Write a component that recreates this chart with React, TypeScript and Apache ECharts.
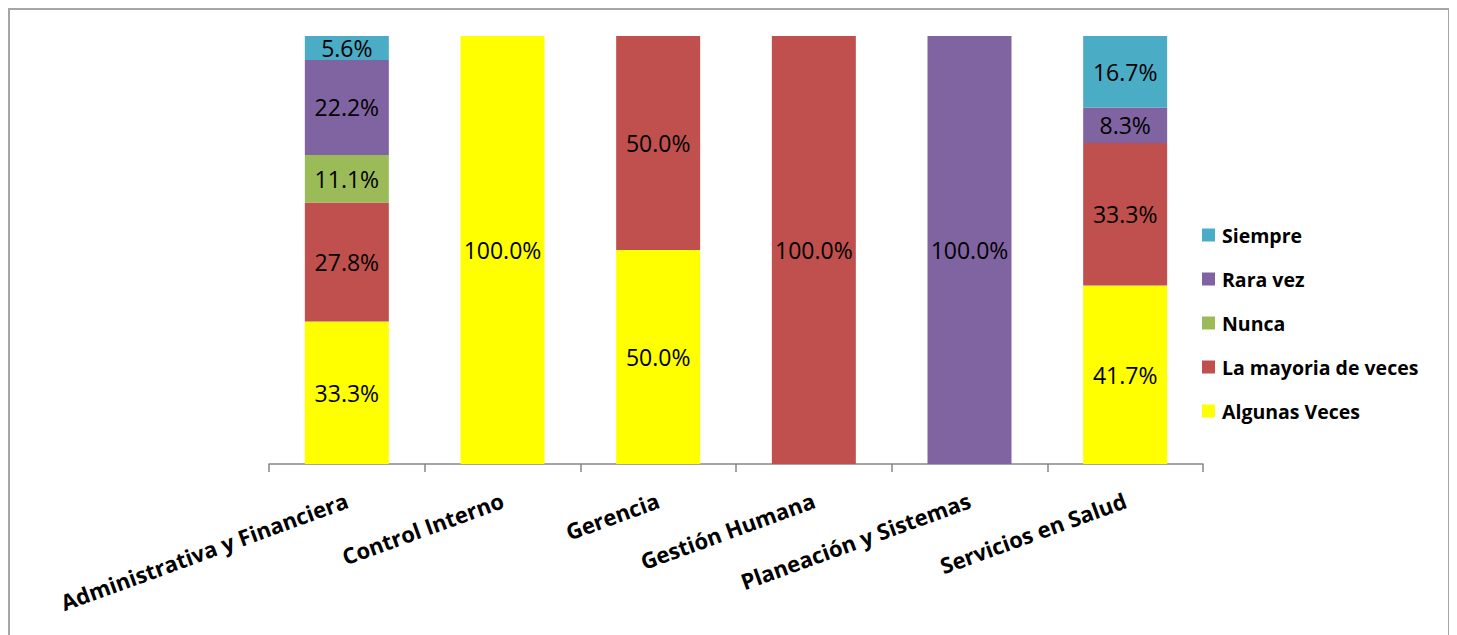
import React, { useEffect, useRef } from "react";
import * as echarts from "echarts";

const categories = [
  "Administrativa y Financiera",
  "Control Interno",
  "Gerencia",
  "Gestión Humana",
  "Planeación y Sistemas",
  "Servicios en Salud",
];

const algunasVeces = [33.3, 100, 50, 0, 0, 41.7];
const laMayoria = [27.8, 0, 50, 100, 0, 33.3];
const nunca = [11.1, 0, 0, 0, 0, 0];
const raraVez = [22.2, 0, 0, 0, 100, 8.3];
const siempre = [5.6, 0, 0, 0, 0, 16.7];

const seriesNames = ["Algunas Veces", "La mayoria de veces", "Nunca", "Rara vez", "Siempre"];
const seriesColors = ["#FFFF00", "#C0504D", "#9BBB59", "#8064A2", "#4BACC6"];
const seriesData = [algunasVeces, laMayoria, nunca, raraVez, siempre];
const legendOrder = ["Siempre", "Rara vez", "Nunca", "La mayoria de veces", "Algunas Veces"];

const FONT = "'Open Sans', 'Noto Sans', sans-serif";

export default function App() {
  const ref = useRef<HTMLDivElement>(null);

  useEffect(() => {
    if (!ref.current) return;
    const chart = echarts.init(ref.current, null, { renderer: "svg" });
    chart.setOption({
      animation: false,
      backgroundColor: "#ffffff",
      textStyle: { fontFamily: FONT },
      grid: { left: 259, top: 26, width: 934, height: 428, containLabel: false },
      legend: {
        orient: "vertical",
        left: 1187,
        top: 210,
        padding: 5,
        data: legendOrder,
        icon: "rect",
        itemWidth: 13,
        itemHeight: 13,
        itemGap: 24,
        textStyle: {
          fontFamily: FONT,
          fontWeight: "bold",
          fontSize: 19.5,
          lineHeight: 20,
          color: "#000",
          padding: [0, 0, 0, 2],
        },
      },
      xAxis: {
        type: "category",
        data: categories,
        boundaryGap: true,
        axisLine: { show: true, lineStyle: { color: "#868686", width: 1.5 } },
        axisTick: { show: true, length: 8, alignWithLabel: false, lineStyle: { color: "#868686", width: 1.5 } },
        axisLabel: {
          interval: 0,
          rotate: 20,
          margin: 35,
          fontFamily: FONT,
          fontWeight: "bold",
          fontSize: 22,
          color: "#000",
        },
      },
      yAxis: {
        type: "value",
        min: 0,
        max: 100,
        show: false,
        splitLine: { show: false },
      },
      series: seriesNames.map((name, i) => ({
        name,
        type: "bar",
        stack: "total",
        barWidth: 84,
        data: seriesData[i],
        itemStyle: { color: seriesColors[i] },
        label: {
          show: true,
          position: "inside",
          fontFamily: FONT,
          fontSize: 23,
          color: "#000",
          formatter: (p: any) => (p.value ? `${Number(p.value).toFixed(1)}%` : ""),
        },
      })),
    });
    return () => chart.dispose();
  }, []);

  return (
    <div
      style={{
        width: 1442,
        height: 640,
        boxSizing: "border-box",
        border: "2px solid #a6a6a6",
      }}
    >
      <div ref={ref} style={{ width: 1438, height: 636 }} />
    </div>
  );
}
